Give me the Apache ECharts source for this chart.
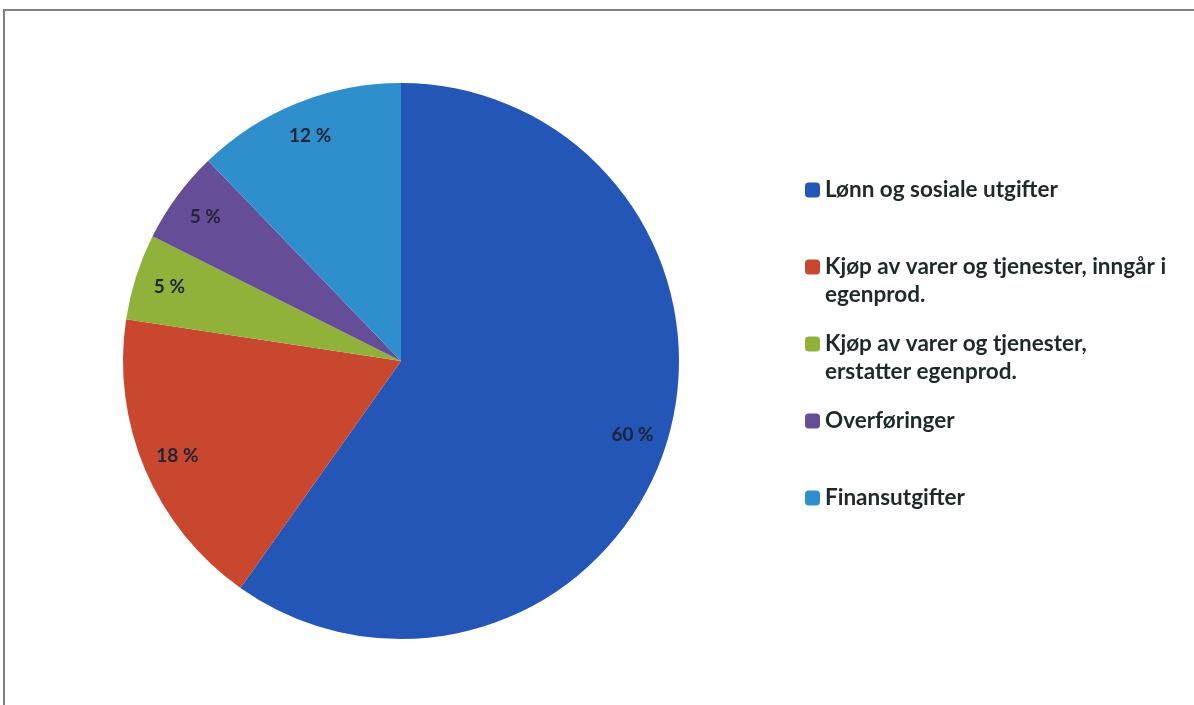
<!DOCTYPE html>
<html>
<head>
<meta charset="utf-8">
<script src="https://cdn.jsdelivr.net/npm/echarts@6/dist/echarts.min.js"></script>
<style>
html,body{margin:0;padding:0;background:#fff;}
#chart{width:1194px;height:705px;}
</style>
</head>
<body>
<div id="chart"></div>
<script>
var categories = [
  'Lønn og sosiale utgifter',
  'Kjøp av varer og tjenester, inngår i egenprod.',
  'Kjøp av varer og tjenester, erstatter egenprod.',
  'Overføringer',
  'Finansutgifter'
];
var legendLines = [
  ['Lønn og sosiale utgifter'],
  ['Kjøp av varer og tjenester, inngår i', 'egenprod.'],
  ['Kjøp av varer og tjenester,', 'erstatter egenprod.'],
  ['Overføringer'],
  ['Finansutgifter']
];
var values = [59.8, 17.6, 5.0, 5.4, 12.2];
var percentLabels = ['60 %', '18 %', '5 %', '5 %', '12 %'];
var colors = ['#2456b8', '#c9472e', '#90b23b', '#664d97', '#2f8fcd'];

var pieData = categories.map(function (c, i) {
  return { name: c, value: values[i], itemStyle: { color: colors[i] } };
});
var labelData = categories.map(function (c, i) {
  return { name: c, value: values[i], label: { formatter: percentLabels[i] } };
});

var chart = echarts.init(document.getElementById('chart'));
chart.setOption({
  animation: false,
  backgroundColor: '#ffffff',
  graphic: [{
    type: 'rect',
    shape: { x: 4, y: 10, width: 1300, height: 800 },
    style: { fill: 'none', stroke: '#808080', lineWidth: 2 },
    silent: true
  }],
  legend: {
    orient: 'vertical',
    left: 805,
    top: 148,
    padding: 0,
    itemGap: -7,
    itemWidth: 15,
    itemHeight: 15,
    icon: 'roundRect',
    data: categories,
    formatter: function (name) {
      var idx = categories.indexOf(name);
      var lines = legendLines[idx];
      return '\n' + lines.join('\n') + (lines.length === 1 ? '\n' : '');
    },
    textStyle: {
      fontFamily: 'Lato',
      fontWeight: 'bold',
      fontSize: 22.5,
      lineHeight: 28,
      color: '#1e2a2a'
    }
  },
  series: [{
    type: 'pie',
    center: [401, 361],
    radius: 278,
    startAngle: 90,
    clockwise: true,
    label: { show: false },
    labelLine: { show: false },
    emphasis: { disabled: true },
    data: pieData
  }, {
    type: 'pie',
    center: [401, 361],
    radius: [202, 278],
    startAngle: 90,
    clockwise: true,
    silent: true,
    legendHoverLink: false,
    itemStyle: { color: 'rgba(0,0,0,0)' },
    label: {
      show: true,
      position: 'inside',
      fontFamily: 'Lato',
      fontWeight: 'bold',
      fontSize: 19,
      color: '#1f2538'
    },
    labelLine: { show: false },
    emphasis: { disabled: true },
    data: labelData
  }]
});
</script>
</body>
</html>
